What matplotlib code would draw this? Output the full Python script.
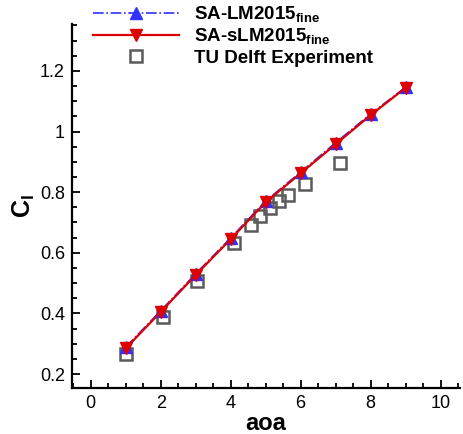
import matplotlib
matplotlib.use('Agg')
import matplotlib.pyplot as plt
from matplotlib.ticker import MultipleLocator, FuncFormatter

plt.rcParams['font.family'] = ['Liberation Sans', 'DejaVu Sans']
plt.rcParams['mathtext.fontset'] = 'custom'
plt.rcParams['mathtext.rm'] = 'Liberation Sans'
plt.rcParams['mathtext.bf'] = 'Liberation Sans:bold'

# lift coefficient vs angle of attack
aoa = [1, 2, 3, 4, 5, 6, 7, 8, 9]
cl_lm = [0.289, 0.409, 0.531, 0.649, 0.771, 0.866, 0.963, 1.058, 1.146]
cl_slm = [0.285, 0.405, 0.527, 0.645, 0.767, 0.862, 0.958, 1.054, 1.144]

aoa_exp = [1.0, 2.05, 3.05, 4.1, 4.57, 4.83, 5.11, 5.37, 5.64, 6.13, 7.13]
cl_exp = [0.265, 0.387, 0.507, 0.632, 0.693, 0.722, 0.748, 0.772, 0.792, 0.827, 0.895]

fig = plt.figure(figsize=(4.64, 4.34), dpi=100)
ax = fig.add_axes([0.155, 0.106, 0.836, 0.839])

ax.plot(aoa_exp, cl_exp, 's', ms=9, mfc='none', mec='#5a5a5a', mew=1.8,
        label='TU Delft Experiment', zorder=2)
ax.plot(aoa, cl_lm, '-.', color='#3030ff', lw=1.2, marker='^', ms=9,
        mec='#3030ff', label=r'SA-LM2015$_\mathbf{fine}$', zorder=3)
ax.plot(aoa, cl_slm, '-', color='#dd0000', lw=1.6, marker='v', ms=9,
        mec='#dd0000', label=r'SA-sLM2015$_\mathbf{fine}$', zorder=4)

ax.set_xlim(-0.54, 10.55)
ax.set_ylim(0.154, 1.355)
ax.xaxis.set_major_locator(MultipleLocator(2))
ax.xaxis.set_minor_locator(MultipleLocator(0.5))
ax.yaxis.set_major_locator(MultipleLocator(0.2))
ax.yaxis.set_minor_locator(MultipleLocator(0.05))
ax.yaxis.set_major_formatter(FuncFormatter(lambda v, p: '%g' % round(v, 2)))

for s in ['top', 'right']:
    ax.spines[s].set_visible(False)
for s in ['left', 'bottom']:
    ax.spines[s].set_linewidth(1.6)
ax.tick_params(which='both', direction='in', width=1.3, labelsize=13,
               top=False, right=False)
ax.tick_params(which='major', length=6, pad=5)
ax.tick_params(which='minor', length=3.5)

ax.set_xlabel('aoa', fontsize=17, fontweight='bold', labelpad=0)
ax.set_ylabel(r'$\mathbf{C_l}$', fontsize=18, labelpad=2)

h, l = ax.get_legend_handles_labels()
order = [1, 2, 0]
fig.legend([h[i] for i in order], [l[i] for i in order],
           loc='upper left', bbox_to_anchor=(0.2, 0.99), frameon=False,
           prop={'size': 13.5, 'weight': 'bold'}, handlelength=4.6,
           handletextpad=0.8, labelspacing=0.12, borderpad=0.0,
           borderaxespad=0.0)

fig.savefig('out.png', dpi=100)
